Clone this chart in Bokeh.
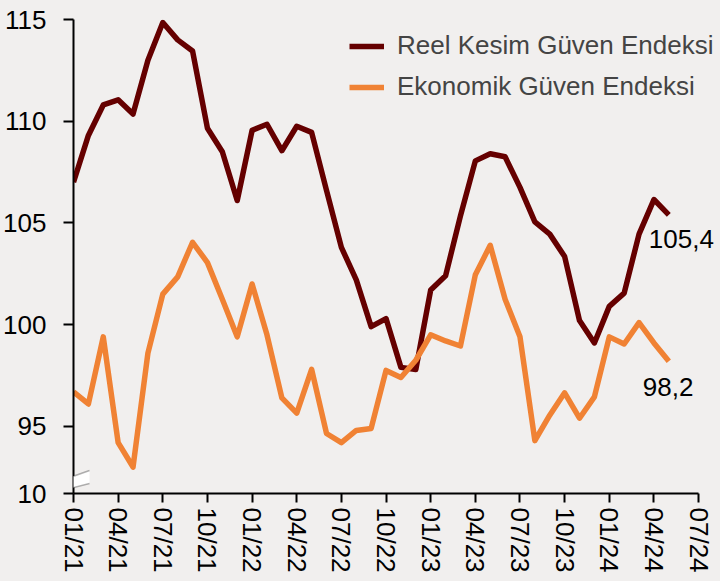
from bokeh.plotting import figure
from bokeh.models import (ColumnDataSource, FixedTicker, Legend, LegendItem,
                          Label, PolyAnnotation, Range1d)
from bokeh.embed import file_html
from bokeh.resources import INLINE

# ---- data ----
months = list(range(41))  # 01/21 .. 05/24
reel_kesim = [107.0, 109.3, 110.8, 111.05, 110.35, 113.0, 114.85, 114.0, 113.45, 109.65,
              108.5, 106.1, 109.55, 109.85, 108.55, 109.75, 109.45, 106.6, 103.8, 102.2,
              99.9, 100.3, 97.9, 97.8, 101.7, 102.4, 105.35, 108.05, 108.4, 108.25,
              106.75, 105.05, 104.45, 103.35, 100.2, 99.1, 100.9, 101.55, 104.45, 106.15,
              105.4]
ekonomik = [96.7, 96.1, 99.4, 94.2, 93.0, 98.6, 101.5, 102.35, 104.05, 103.05,
            101.25, 99.4, 102.0, 99.5, 96.4, 95.65, 97.8, 94.65, 94.2, 94.8,
            94.9, 97.75, 97.4, 98.25, 99.5, 99.2, 98.95, 102.45, 103.9, 101.25,
            99.4, 94.3, 95.55, 96.65, 95.4, 96.45, 99.4, 99.05, 100.1, 99.1,
            98.2]
x_ticks = list(range(0, 43, 3))
x_tick_labels = ["01/21", "04/21", "07/21", "10/21", "01/22", "04/22", "07/22", "10/22",
                 "01/23", "04/23", "07/23", "10/23", "01/24", "04/24", "07/24"]
y_ticks = [91.7, 95, 100, 105, 110, 115]
y_tick_labels = ["10", "95", "100", "105", "110", "115"]
series_names = ["Reel Kesim Güven Endeksi", "Ekonomik Güven Endeksi"]

RED = "#650000"
ORANGE = "#F08234"
BG = "#F1EFEE"
FONT = "Liberation Sans"
FS = "26px"

src = ColumnDataSource(dict(x=months, r=reel_kesim, e=ekonomik))

p = figure(width=714, height=578, output_backend="svg", toolbar_location=None,
           x_range=Range1d(0, 43.07), y_range=Range1d(91.7, 115),
           min_border_left=71, min_border_right=0, min_border_top=19,
           min_border_bottom=85)
p.background_fill_color = BG
p.border_fill_color = BG
p.outline_line_color = None
p.xgrid.grid_line_color = None
p.ygrid.grid_line_color = None

r1 = p.line("x", "r", source=src, line_color=RED, line_width=5.5, line_join="round")
r2 = p.line("x", "e", source=src, line_color=ORANGE, line_width=5.5, line_join="round")

# axes
p.xaxis.ticker = FixedTicker(ticks=x_ticks)
p.xaxis.bounds = (x_ticks[0], x_ticks[-1])
p.xaxis.major_label_overrides = {t: l for t, l in zip(x_ticks, x_tick_labels)}
p.xaxis.major_label_orientation = "vertical"
p.yaxis.ticker = FixedTicker(ticks=y_ticks)
p.yaxis.major_label_overrides = {t: l for t, l in zip(y_ticks, y_tick_labels)}
for ax in (p.xaxis, p.yaxis):
    ax.axis_line_color = "black"
    ax.axis_line_width = 2
    ax.major_tick_line_color = "black"
    ax.major_tick_line_width = 2
    ax.major_tick_in = 0
    ax.minor_tick_line_color = None
    ax.major_label_text_font = FONT
    ax.major_label_text_font_size = FS
    ax.major_label_text_color = "black"
p.xaxis.major_tick_out = 9
p.xaxis.major_label_standoff = 5
p.yaxis.major_tick_out = 10
p.yaxis.major_label_standoff = 17

# legend
legend = Legend(items=[LegendItem(label=series_names[0], renderers=[r1]),
                       LegendItem(label=series_names[1], renderers=[r2])],
                location=(276, 391), orientation="vertical",
                background_fill_alpha=0, border_line_color=None,
                padding=0, margin=0, spacing=10, glyph_width=35, glyph_height=30,
                label_height=30, label_standoff=13,
                label_text_font=FONT, label_text_font_size=FS)
p.add_layout(legend)

# end labels
def fmt(v):
    return f"{v:.1f}".replace(".", ",")

p.add_layout(Label(x=months[-1], y=reel_kesim[-1], text=fmt(reel_kesim[-1]),
                   x_offset=-20, y_offset=-24, text_baseline="middle",
                   text_font=FONT, text_font_size=FS, text_color="black"))
p.add_layout(Label(x=months[-1], y=ekonomik[-1], text=fmt(ekonomik[-1]),
                   x_offset=-26, y_offset=-26, text_baseline="middle",
                   text_font=FONT, text_font_size=FS, text_color="black"))

# axis break marks (screen units: relative to the frame, y measured up from its bottom)
p.add_layout(PolyAnnotation(xs=[-15, 16, 16, -15], ys=[12, 23, 10, 2],
                            xs_units="screen", ys_units="screen",
                            fill_color="white", fill_alpha=1, line_color=None))
p.add_layout(PolyAnnotation(xs=[-15, 16], ys=[12, 23], xs_units="screen", ys_units="screen",
                            fill_alpha=0, line_color="black", line_width=1.5))
p.add_layout(PolyAnnotation(xs=[-15, 16], ys=[2, 10], xs_units="screen", ys_units="screen",
                            fill_alpha=0, line_color="black", line_width=1.5))

html = file_html(p, INLINE)
html = html.replace("<head>", "<head><style>body{background:%s;}</style>" % BG, 1)
open("out.html", "w").write(html)
